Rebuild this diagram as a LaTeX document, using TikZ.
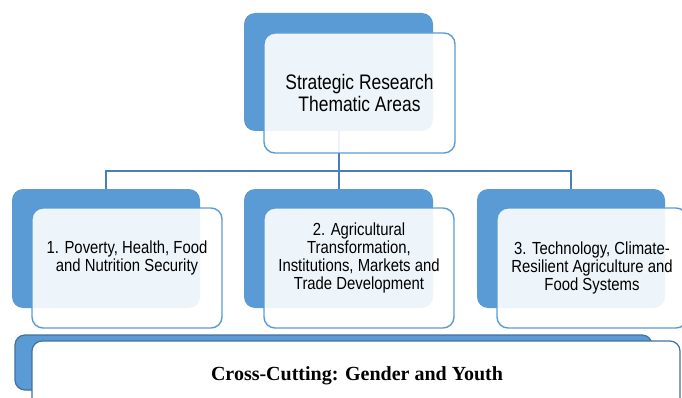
\documentclass[tikz,border=0pt]{standalone}
\usepackage{fontspec}
\setmainfont{Liberation Serif}
\newfontfamily\boxfont[FakeStretch=0.85]{Liberation Sans}
\newfontfamily\headfont[FakeStretch=0.83]{Liberation Sans}
\definecolor{tileblue}{HTML}{5B9BD5}
\definecolor{linkblue}{HTML}{4A7EBB}
\definecolor{edgeblue}{HTML}{41719C}
\begin{document}
\begin{tikzpicture}[x=1pt,y=-1pt,
  backtile/.style={fill=tileblue, rounded corners=11pt, inner sep=0pt, outer sep=0pt},
  fronttile/.style={draw=tileblue, line width=1.4pt, fill=white, fill opacity=0.9,
    rounded corners=11pt, inner sep=0pt},
  link/.style={draw=linkblue, line width=2pt},
  boxtext/.style={font=\boxfont\fontsize{17.5}{18}\selectfont, align=center, text=black},
  toptext/.style={font=\headfont\fontsize{21}{21.5}\selectfont, align=center, text=black},
  bandback/.style={fill=tileblue, draw=edgeblue, line width=1.2pt, rounded corners=10pt, inner sep=0pt},
  bandfront/.style={fill=white, draw=edgeblue, line width=1.2pt, rounded corners=10pt, inner sep=0pt}
]
\useasboundingbox (0,0) rectangle (682,398);
\clip (0,0) rectangle (682,398);

% back tiles
\node[backtile, minimum width=189pt, minimum height=118pt] (topB) at (338.5,72) {};
\node[backtile, minimum width=188pt, minimum height=119pt] (b1B) at (106,248.5) {};
\node[backtile, minimum width=189pt, minimum height=119pt] (b2B) at (338.5,248.5) {};
\node[backtile, minimum width=188pt, minimum height=119pt] (b3B) at (571,248.5) {};

% connectors
\coordinate (split) at (338.5,171);
\draw[link] (topB.south) -- (split);
\draw[link] (split) -| (b1B.north);
\draw[link] (split) -- (b2B.north);
\draw[link] (split) -| (b3B.north);

% front tiles
\node[fronttile, minimum width=191pt, minimum height=120pt] (topF) at (359.5,93) {};
\node[fronttile, minimum width=190pt, minimum height=120pt] (b1F) at (127,268) {};
\node[fronttile, minimum width=190pt, minimum height=120pt] (b2F) at (359,268) {};
\node[fronttile, minimum width=190pt, minimum height=120pt] (b3F) at (592,268) {};

% labels
\node[toptext] (topT) at (359.5,93) {Strategic Research\\Thematic Areas};
\node[boxtext] (t1) at (127,258) {1. Poverty, Health, Food\\and Nutrition Security};
\node[boxtext] (t2) at (359,258) {2. Agricultural\\Transformation,\\Institutions, Markets and\\Trade Development};
\node[boxtext] (t3) at (592,268) {3. Technology, Climate-\\Resilient Agriculture and\\Food Systems};

% cross-cutting band
\node[bandback, minimum width=637pt, minimum height=55pt] (ccB) at (333.5,362.5) {};
\node[bandfront, minimum width=648pt, minimum height=79pt] (ccF) at (356,380.5) {};
\node[anchor=base, font=\bfseries\fontsize{20}{22}\selectfont] (ccT) at (357,380) {Cross-Cutting: Gender and Youth};
\end{tikzpicture}
\end{document}
